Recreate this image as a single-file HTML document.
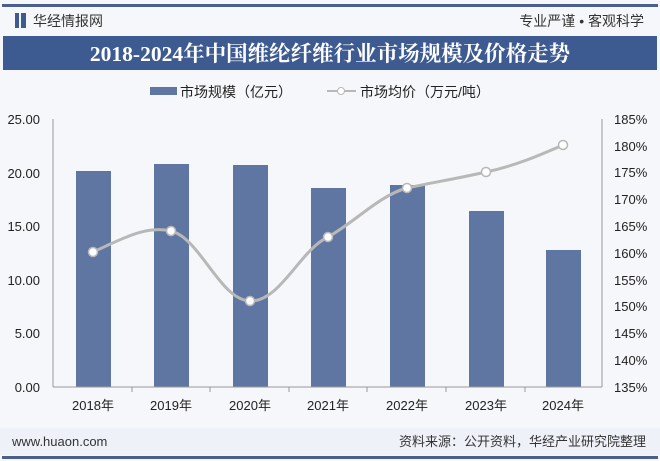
<!DOCTYPE html>
<html><head><meta charset="utf-8"><style>
body{margin:0;width:660px;height:461px;background:#f4f6fa;overflow:hidden;font-family:"Liberation Sans","Noto Sans CJK SC",sans-serif;}
</style></head><body>
<svg width="660" height="461" xmlns="http://www.w3.org/2000/svg" style="position:absolute;left:0;top:0">
<rect width="660" height="461" fill="#f6f7fa"/>
<rect x="2" y="4" width="656" height="3" fill="#4a5f8c"/>
<rect x="15" y="13" width="4" height="15" fill="#3f5a8f"/><rect x="21" y="13" width="5" height="15" fill="#3f5a8f"/>
<text x="33" y="26" font-size="14" fill="#333" font-family="Liberation Sans,Noto Sans CJK SC,sans-serif">华经情报网</text>
<text x="644" y="26" font-size="14" fill="#333" text-anchor="end" font-family="Liberation Sans,Noto Sans CJK SC,sans-serif">专业严谨 • 客观科学</text>
<rect x="3" y="36" width="654" height="34" fill="#3d5a91"/>
<text x="330" y="61" font-size="21.5" fill="#fff" font-weight="bold" text-anchor="middle" font-family="Liberation Serif,Noto Serif CJK SC,serif">2018-2024年中国维纶纤维行业市场规模及价格走势</text>
<rect x="150" y="87" width="27" height="8" fill="#5f76a3"/>
<text x="180" y="97" font-size="14" fill="#222" font-family="Liberation Sans,Noto Sans CJK SC,sans-serif">市场规模（亿元）</text>
<line x1="327" y1="91" x2="356" y2="91" stroke="#b8b8b8" stroke-width="2"/><circle cx="341" cy="91" r="3.5" fill="#fff" stroke="#b8b8b8"/>
<text x="360" y="97" font-size="14" fill="#222" font-family="Liberation Sans,Noto Sans CJK SC,sans-serif">市场均价（万元/吨）</text>
<g font-size="13" fill="#222" font-family="Liberation Sans,sans-serif">
<text x="40" y="124" text-anchor="end">25.00</text>
<text x="40" y="178" text-anchor="end">20.00</text>
<text x="40" y="231" text-anchor="end">15.00</text>
<text x="40" y="285" text-anchor="end">10.00</text>
<text x="40" y="338" text-anchor="end">5.00</text>
<text x="40" y="392" text-anchor="end">0.00</text>
<text x="614" y="124">185%</text><text x="614" y="151">180%</text><text x="614" y="177">175%</text><text x="614" y="204">170%</text><text x="614" y="231">165%</text><text x="614" y="258">160%</text><text x="614" y="285">155%</text><text x="614" y="311">150%</text><text x="614" y="338">145%</text><text x="614" y="365">140%</text><text x="614" y="392">135%</text>
</g>
<line x1="53" y1="119" x2="53" y2="387" stroke="#999"/>
<line x1="602" y1="119" x2="602" y2="387" stroke="#999"/>
<g fill="#5f76a3">
<rect x="76" y="171" width="35" height="216"/>
<rect x="154" y="164" width="35" height="223"/>
<rect x="233" y="165" width="35" height="222"/>
<rect x="311" y="188" width="35" height="199"/>
<rect x="390" y="185" width="35" height="202"/>
<rect x="469" y="211" width="35" height="176"/>
<rect x="546" y="250" width="35" height="137"/>
</g>
<line x1="53" y1="387" x2="602" y2="387" stroke="#999"/>
<g stroke="#999"><line x1="132" y1="387" x2="132" y2="392"/><line x1="210" y1="387" x2="210" y2="392"/><line x1="289" y1="387" x2="289" y2="392"/><line x1="367" y1="387" x2="367" y2="392"/><line x1="446" y1="387" x2="446" y2="392"/><line x1="525" y1="387" x2="525" y2="392"/></g>
<path d="M93,252 C120,240 145,225 171,231 C200,238 220,300 250,301 C280,302 300,250 328,237 C355,222 380,195 407,188 C430,183 460,178 486,172 C515,166 540,155 563,145" fill="none" stroke="#b8b8b8" stroke-width="3"/>
<g fill="#fff" stroke="#b8b8b8" stroke-width="1.5">
<circle cx="93" cy="252" r="4.5"/><circle cx="171" cy="231" r="4.5"/><circle cx="250" cy="301" r="4.5"/><circle cx="328" cy="237" r="4.5"/><circle cx="407" cy="188" r="4.5"/><circle cx="486" cy="172" r="4.5"/><circle cx="563" cy="145" r="4.5"/>
</g>
<g font-size="13" fill="#222" text-anchor="middle" font-family="Liberation Sans,Noto Sans CJK SC,sans-serif">
<text x="93" y="410">2018年</text><text x="171" y="410">2019年</text><text x="250" y="410">2020年</text><text x="328" y="410">2021年</text><text x="407" y="410">2022年</text><text x="486" y="410">2023年</text><text x="563" y="410">2024年</text>
</g>
<rect x="0" y="428" width="660" height="27" fill="#eef1f7"/>
<text x="12" y="446" font-size="13" fill="#333" font-family="Liberation Sans,sans-serif">www.huaon.com</text>
<text x="646" y="446" font-size="13" fill="#333" text-anchor="end" font-family="Liberation Sans,Noto Sans CJK SC,sans-serif">资料来源：公开资料，华经产业研究院整理</text>
<rect x="2" y="456" width="656" height="3" fill="#4a5f8c"/>
</svg>
</body></html>
